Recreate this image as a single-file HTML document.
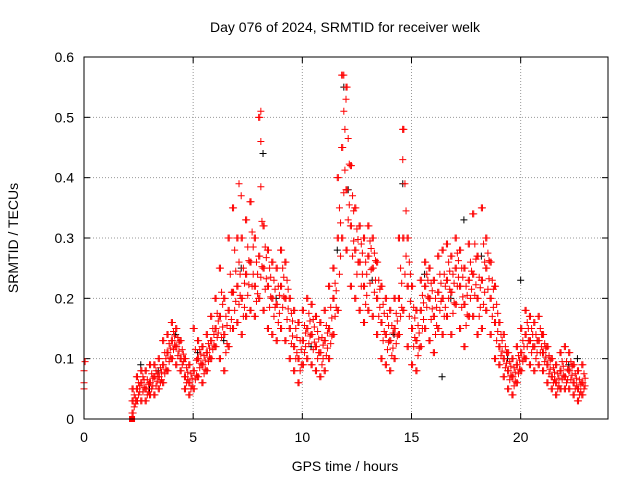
<!DOCTYPE html>
<html><head><meta charset="utf-8"><style>
body{margin:0;background:#fff}
svg{display:block;font-family:"Liberation Sans",sans-serif}
</style></head><body>
<svg id="chart" width="640" height="480">
<text x="345" y="32" font-size="14" text-anchor="middle">Day 076 of 2024, SRMTID for receiver welk</text>
<text x="345" y="471" font-size="14" text-anchor="middle">GPS time / hours</text>
<text x="18" y="238" font-size="14" text-anchor="middle" transform="rotate(-90 18 238)">SRMTID / TECUs</text>
<g id="grid"></g>
<g id="axes"></g>
<g id="marks"></g>
<rect x="84" y="57" width="524" height="362" fill="none" stroke="#000"/>
</svg>
<script>
const xTicks=[0,5,10,15,20];
const yTicks=[0,0.1,0.2,0.3,0.4,0.5,0.6];
const yTickLabels=["0","0.1","0.2","0.3","0.4","0.5","0.6"];
const hours=[2.2,2.4,2.6,2.8,3.0,3.2,3.4,3.6,3.8,4.0,4.2,4.4,4.6,4.8,5.0,5.2,5.4,5.6,5.8,6.0,6.2,6.4,6.6,6.8,7.0,7.2,7.4,7.6,7.8,8.0,8.2,8.4,8.6,8.8,9.0,9.2,9.4,9.6,9.8,10.0,10.2,10.4,10.6,10.8,11.0,11.2,11.4,11.6,11.8,12.0,12.2,12.4,12.6,12.8,13.0,13.2,13.4,13.6,13.8,14.0,14.2,14.4,14.6,14.8,15.0,15.2,15.4,15.6,15.8,16.0,16.2,16.4,16.6,16.8,17.0,17.2,17.4,17.6,17.8,18.0,18.2,18.4,18.6,18.8,19.0,19.2,19.4,19.6,19.8,20.0,20.2,20.4,20.6,20.8,21.0,21.2,21.4,21.6,21.8,22.0,22.2,22.4,22.6,22.8];
const redMid=[.03,.05,.06,.05,.06,.07,.07,.09,.11,.13,.12,.10,.07,.06,.08,.10,.09,.11,.13,.15,.17,.14,.18,.21,.22,.20,.24,.26,.22,.27,.25,.22,.20,.19,.22,.20,.15,.12,.10,.13,.15,.14,.12,.11,.13,.15,.20,.30,.45,.38,.32,.28,.26,.22,.27,.25,.20,.16,.14,.13,.15,.20,.30,.22,.15,.13,.18,.22,.20,.17,.21,.20,.23,.21,.25,.22,.19,.23,.24,.20,.23,.25,.20,.16,.12,.10,.08,.07,.09,.11,.14,.13,.12,.13,.11,.09,.07,.06,.08,.07,.08,.06,.05,.06];
const redLow=[.01,.03,.03,.03,.04,.04,.05,.06,.08,.10,.09,.08,.05,.04,.05,.07,.06,.08,.10,.12,.10,.08,.12,.15,.16,.14,.17,.18,.17,.20,.18,.15,.14,.13,.15,.13,.10,.08,.06,.09,.10,.09,.08,.07,.08,.10,.14,.18,.30,.28,.22,.20,.18,.16,.18,.17,.14,.10,.09,.08,.10,.14,.18,.12,.09,.08,.12,.15,.13,.11,.15,.14,.17,.14,.19,.15,.12,.17,.17,.14,.15,.18,.14,.10,.09,.07,.05,.04,.06,.08,.10,.09,.08,.09,.08,.06,.05,.04,.05,.05,.05,.04,.03,.04];
const redHigh=[.05,.07,.08,.08,.09,.09,.10,.13,.14,.16,.15,.13,.10,.09,.15,.13,.12,.14,.17,.20,.25,.20,.30,.35,.30,.30,.33,.36,.30,.50,.32,.28,.26,.25,.28,.26,.20,.18,.16,.18,.20,.19,.17,.16,.18,.22,.25,.40,.57,.55,.42,.35,.32,.30,.32,.30,.26,.22,.20,.18,.20,.30,.48,.30,.22,.18,.23,.26,.25,.23,.27,.28,.29,.27,.30,.28,.25,.29,.34,.27,.35,.30,.26,.22,.16,.14,.11,.10,.12,.15,.18,.17,.16,.17,.14,.12,.10,.09,.11,.12,.11,.09,.08,.09];
const redExtraHours=[0,0,0,0.05,8.1,8.1,11.9,12.0,14.6,14.6,7.1,7.2];
const redExtraVals=[.06,.08,.05,.095,.51,.46,.57,.53,.48,.43,.39,.37];
const blackHours=[2.6,3.0,3.4,4.2,5.2,6.4,7.2,8.2,8.8,10.4,11.6,11.9,12.1,13.2,14.2,14.6,15.6,16.4,16.8,17.4,18.2,19.4,20.0,21.0,22.2,22.6];
const blackVals=[.09,.05,.08,.14,.11,.13,.25,.44,.20,.12,.28,.55,.38,.23,.14,.39,.24,.07,.20,.33,.27,.10,.23,.11,.09,.10];
const X0=84,X1=608,Y0=419,Y1=57,XMAX=24,YMAX=0.6;
function sx(v){return X0+v/XMAX*(X1-X0);}
function sy(v){return Y0-v/YMAX*(Y0-Y1);}
const NS="http://www.w3.org/2000/svg";
const grid=document.getElementById('grid'),axes=document.getElementById('axes'),marks=document.getElementById('marks');
function mk(tag,attrs,parent){const e=document.createElementNS(NS,tag);for(const k in attrs)e.setAttribute(k,attrs[k]);parent.appendChild(e);return e;}
xTicks.forEach(t=>{const x=sx(t);
 const g=mk('line',{x1:x,x2:x,y1:Y1,y2:Y0,stroke:'#999','stroke-dasharray':'1,2'},grid);
 
 
 mk('line',{x1:x,x2:x,y1:Y0,y2:Y0-6,stroke:'#000'},axes);
 mk('line',{x1:x,x2:x,y1:Y1,y2:Y1+6,stroke:'#000'},axes);
 const l=mk('text',{x:x,y:Y0+23,'font-size':14,'text-anchor':'middle'},axes);l.textContent=t;
 
 
});
yTicks.forEach((t,i)=>{const y=sy(t);
 const g=mk('line',{x1:X0,x2:X1,y1:y,y2:y,stroke:'#999','stroke-dasharray':'1,2'},grid);
 
 
 mk('line',{x1:X0,x2:X0+6,y1:y,y2:y,stroke:'#000'},axes);
 mk('line',{x1:X1,x2:X1-6,y1:y,y2:y,stroke:'#000'},axes);
 const l=mk('text',{x:X0-10,y:y+5,'font-size':14,'text-anchor':'end'},axes);l.textContent=yTickLabels[i];
 
 
});
function plus(x,y,c,name){const p=mk('path',{d:`M${x-3.5},${y}h7M${x},${y-3.5}v7`,stroke:c,'stroke-width':1,fill:'none'},marks);
 
 }
blackHours.forEach((h,i)=>plus(sx(h),sy(blackVals[i]),'#000','black-point'));
[redMid,redLow,redHigh].forEach(arr=>hours.forEach((h,i)=>{plus(sx(h),sy(arr[i]),'#f00','red-point');plus(sx(h+0.05),sy(arr[i]),'#f00','red-point');}));
hours.forEach((h,i)=>{plus(sx(h+0.1),sy((redMid[i]+redHigh[i])/2),'#f00','red-point');plus(sx(h+0.1),sy((redMid[i]+redLow[i])/2),'#f00','red-point');plus(sx(h+0.15),sy((redMid[i]*3+redHigh[i])/4),'#f00','red-point');plus(sx(h+0.15),sy((redMid[i]*3+redLow[i])/4),'#f00','red-point');});
redExtraHours.forEach((h,i)=>plus(sx(h),sy(redExtraVals[i]),'#f00','red-point'));
const sq=mk('rect',{x:sx(2.2)-3,y:sy(0)-3,width:6,height:6,fill:'#f00'},marks);


</script>
</body></html>
